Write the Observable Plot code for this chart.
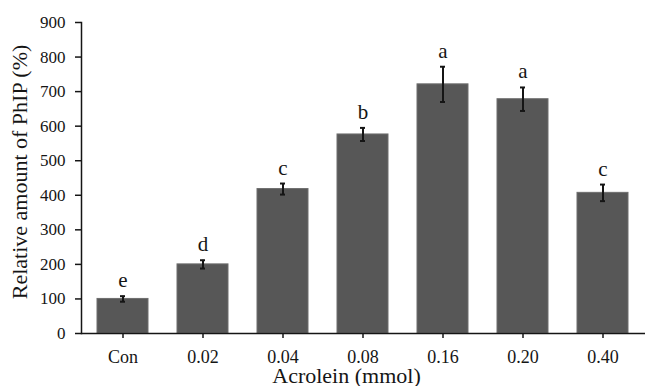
<!DOCTYPE html>
<html>
<head>
<meta charset="utf-8">
<script src="https://cdn.jsdelivr.net/npm/d3@7"></script>
<script src="https://cdn.jsdelivr.net/npm/@observablehq/plot@0.6"></script>
<style>
  html, body { margin: 0; padding: 0; background: #fff; }
</style>
</head>
<body>
<div id="chart"></div>
<script>
const categories = ["Con", "0.02", "0.04", "0.08", "0.16", "0.20", "0.40"];
const values = [100, 200, 418, 576, 721, 678, 407];
const errors = [8, 12, 16, 19, 51, 34, 24];
const letters = ["e", "d", "c", "b", "a", "a", "c"];
const yTicks = [0, 100, 200, 300, 400, 500, 600, 700, 800, 900];
const xTitle = "Acrolein (mmol)";
const yTitle = "Relative amount of PhIP (%)";

const data = categories.map((c, i) => ({
  cat: c, value: values[i], lo: values[i] - errors[i], hi: values[i] + errors[i], letter: letters[i]
}));

const serif = "'Liberation Serif', 'Times New Roman', serif";
const ink = "#151515";

const chart = Plot.plot({
  width: 645,
  height: 386,
  marginLeft: 81,
  marginRight: 0,
  marginTop: 22,
  marginBottom: 53,
  style: { fontFamily: serif, fontSize: "17px", color: ink, background: "white", overflow: "visible" },
  x: { domain: categories, paddingInner: 0.36, paddingOuter: 0.18, label: null },
  y: { domain: [0, 900], label: null },
  marks: [
    Plot.barY(data, { x: "cat", y: "value", fill: "#575757", stroke: "#6e6e6e", strokeWidth: 1 }),
    Plot.ruleX(data, { x: "cat", y1: "lo", y2: "hi", stroke: ink, strokeWidth: 2 }),
    Plot.tickY(data, { x: "cat", y: "hi", stroke: ink, strokeWidth: 2, insetLeft: 23, insetRight: 23 }),
    Plot.tickY(data, { x: "cat", y: "lo", stroke: ink, strokeWidth: 2, insetLeft: 23, insetRight: 23 }),
    Plot.text(data, { x: "cat", y: "hi", text: "letter", lineAnchor: "bottom", dy: -9, fontSize: 21, fill: ink }),
    Plot.axisY({ ticks: yTicks, tickSize: 6, tickPadding: 10, fontSize: 17, label: null, strokeWidth: 1.5 }),
    Plot.axisX({ tickSize: 5, tickPadding: 12, fontSize: 18, label: null, strokeWidth: 1.5 }),
    Plot.frame({ anchor: "left", stroke: ink, strokeWidth: 1.5 }),
    Plot.ruleY([0], { stroke: ink, strokeWidth: 1.5 }),
    Plot.text([xTitle], { frameAnchor: "bottom", textAnchor: "middle", lineAnchor: "bottom", dx: -17, dy: 49, fontSize: 22, fill: ink }),
    Plot.text([yTitle], { frameAnchor: "left", textAnchor: "middle", lineAnchor: "middle", rotate: -90, dx: -62, dy: -6, fontSize: 22, fill: ink })
  ]
});
document.getElementById("chart").appendChild(chart);
</script>
</body>
</html>
